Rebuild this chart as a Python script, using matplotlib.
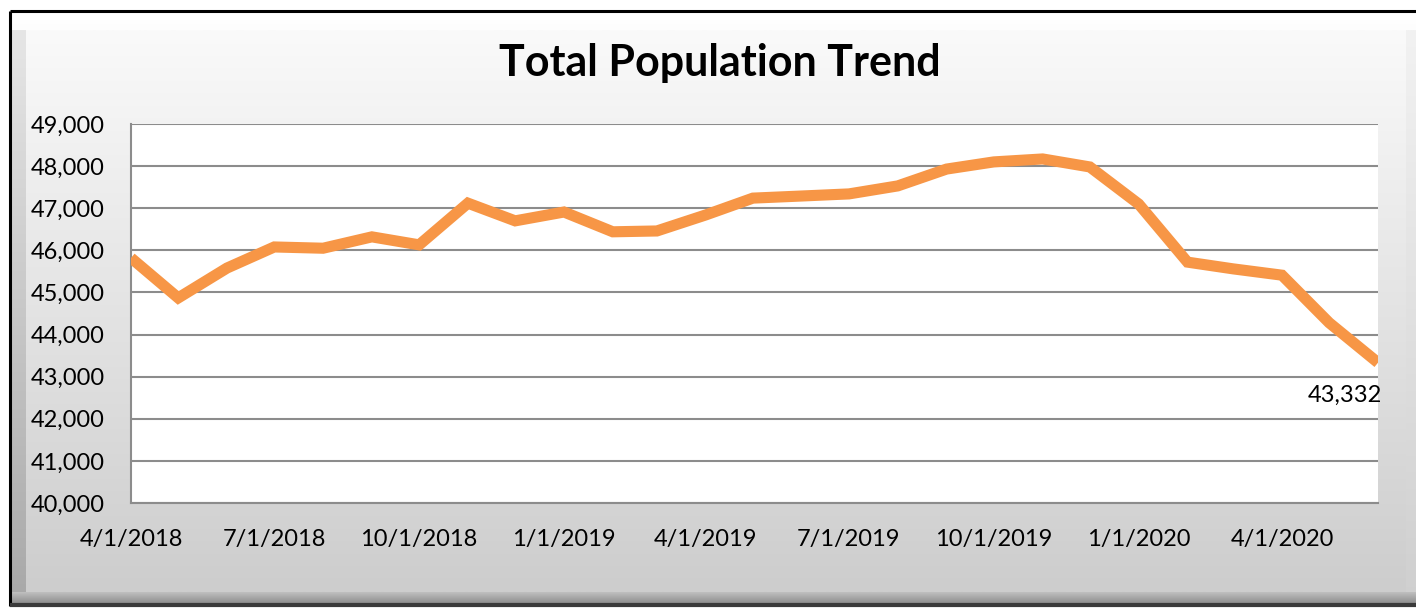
import numpy as np
import pandas as pd
import matplotlib
matplotlib.use('Agg')
import matplotlib.pyplot as plt
from matplotlib.ticker import FuncFormatter, MultipleLocator

# monthly totals, 4/1/2018 .. 6/1/2020
months = pd.date_range('2018-04-01', '2020-06-01', freq='MS')
population = [45820, 44870, 45580, 46080, 46050, 46320, 46130, 47120, 46700,
              46910, 46440, 46460, 46840, 47240, 47290, 47340, 47530, 47930,
              48100, 48170, 47980, 47100, 45720, 45560, 45410, 44280, 43332]
tick_dates = pd.date_range('2018-04-01', '2020-04-01', freq='3MS')
title = 'Total Population Trend'
line_color = '#F79646'

plt.rcParams['font.family'] = ['Lato', 'DejaVu Sans']

W, H = 1416, 610
fig = plt.figure(figsize=(W / 100, H / 100), dpi=100)
fig.patch.set_facecolor('white')

# background frame, drawn in pixel coordinates
bg = fig.add_axes([0, 0, 1, 1])
bg.axis('off')

def vgrad(x0, x1, y0, y1, c_top, c_bot):
    g = np.linspace(0, 1, 256)[:, None]
    top = np.array(matplotlib.colors.to_rgb(c_top))
    bot = np.array(matplotlib.colors.to_rgb(c_bot))
    img = top + (bot - top) * g[..., None]
    img = np.repeat(img, 2, axis=1)
    bg.imshow(img, extent=(x0, x1, y1, y0), aspect='auto', interpolation='bilinear')

# outer panel
vgrad(11, W, 12, 604, '#ffffff', '#c8c8c8')
# main gradient face
vgrad(26, W - 10, 30, 592, '#fafafa', '#cdcdcd')
# left bevel
vgrad(12, 26, 30, 604, '#e6e6e6', '#a8a8a8')
# right bevel
vgrad(W - 10, W, 30, 604, '#f2f2f2', '#cfcfcf')
# bottom bevel
vgrad(12, W, 592, 604, '#c0c0c0', '#8a8a8a')
bg.plot([10, W], [11, 11], color='black', lw=2.2, solid_capstyle='butt')
bg.plot([10, 10], [11, 606], color='black', lw=2.2, solid_capstyle='butt')
bg.plot([10, W], [605, 605], color='#3a3a3a', lw=3, solid_capstyle='butt')
bg.set_xlim(0, W)
bg.set_ylim(H, 0)

# chart
ax = fig.add_axes([131 / W, 1 - 503 / H, (1378 - 131) / W, (503 - 124) / H])
ax.set_facecolor('white')
ax.plot(months, population, color=line_color, lw=8, solid_joinstyle='miter',
        solid_capstyle='butt', zorder=3)

ax.set_xlim(months[0], months[-1])
ax.set_ylim(40000, 49000)
ax.yaxis.set_major_locator(MultipleLocator(1000))
ax.yaxis.set_major_formatter(FuncFormatter(lambda v, p: f'{int(v):,}'))
ax.set_xticks(tick_dates)
ax.set_xticklabels([f'{d.month}/{d.day}/{d.year}' for d in tick_dates])

ax.grid(axis='y', color='#8c8c8c', lw=1.5)
ax.set_axisbelow(True)
for s in ['top', 'right']:
    ax.spines[s].set_visible(False)
ax.spines['left'].set_color('#8c8c8c')
ax.spines['left'].set_linewidth(1.5)
ax.spines['bottom'].set_color('#8c8c8c')
ax.spines['bottom'].set_linewidth(1.5)
ax.tick_params(axis='both', length=0, labelsize=17, colors='black')
ax.tick_params(axis='y', pad=19)
ax.tick_params(axis='x', pad=19)

ax.annotate(f'{population[-1]:,}', xy=(months[-1], population[-1]),
            xytext=(3, -16), textcoords='offset points', ha='right', va='top',
            fontsize=17, color='black', annotation_clip=False)

fig.text(720 / W, 1 - 63 / H, title, ha='center', va='center',
         fontsize=31, fontweight='bold', color='black')

fig.savefig('out.png', dpi=100)
